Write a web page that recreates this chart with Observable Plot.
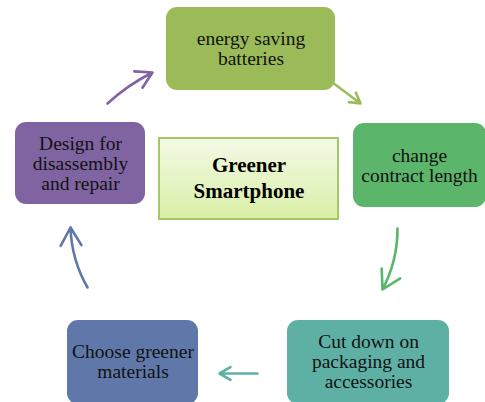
<!DOCTYPE html>
<html>
<head>
<meta charset="utf-8">
<script src="https://cdn.jsdelivr.net/npm/d3@7"></script>
<script src="https://cdn.jsdelivr.net/npm/@observablehq/plot@0.6"></script>
<style>
  html, body { margin: 0; padding: 0; background: #fff; }
  #chart svg { display: block; }
  #chart svg text { font-family: "Liberation Serif", "Times New Roman", "DejaVu Serif", serif !important; }
</style>
</head>
<body>
<div id="chart"></div>
<script>
// Cycle steps (clockwise from top)
const steps = [
  "energy saving\nbatteries",
  "change\ncontract length",
  "Cut down on\npackaging and\naccessories",
  "Choose greener\nmaterials",
  "Design for\ndisassembly\nand repair"
];
const stepColors = ["#9bbb59", "#5bb56a", "#5eb0a5", "#6078a9", "#8064a2"];
const centerLabel = "Greener\nSmartphone";

// Layout of the diagram (box extents in diagram units)
const boxLeft   = [166, 353, 287, 67, 15];
const boxRight  = [335, 486, 449, 198, 145];
const boxTop    = [7, 123, 320, 320, 122];
const boxBottom = [90, 207, 404, 404, 204];
const centerBox = {x1: 159, x2: 338, y1: 138, y2: 219};

// Connector arrows between steps
const arrowFromX = [332, 397, 257, 87, 107];
const arrowFromY = [82, 228, 373, 287, 103];
const arrowToX   = [360, 382, 219, 70, 152];
const arrowToY   = [103, 289, 373, 227, 72];
const arrowBend  = [0, 14, 0, 14, 8];

const boxes = steps.map((label, i) => ({
  label, fill: stepColors[i],
  x1: boxLeft[i], x2: boxRight[i], y1: boxTop[i], y2: boxBottom[i]
}));
const arrows = steps.map((_, i) => ({
  x1: arrowFromX[i], y1: arrowFromY[i], x2: arrowToX[i], y2: arrowToY[i],
  color: stepColors[i], bend: arrowBend[i]
}));

const plot = Plot.plot({
  width: 485,
  height: 402,
  margin: 0,
  x: {domain: [0, 485], range: [0, 485], axis: null},
  y: {domain: [0, 402], range: [0, 402], axis: null},
  marks: [
    Plot.rect(boxes, {x1: "x1", x2: "x2", y1: "y1", y2: "y2", fill: d => d.fill, rx: 11}),
    Plot.rect([centerBox], {x1: "x1", x2: "x2", y1: "y1", y2: "y2", fill: "url(#centerGrad)", stroke: "#a6c767", strokeWidth: 2}),
    ...arrows.map(a => Plot.arrow([a], {
      x1: "x1", y1: "y1", x2: "x2", y2: "y2",
      stroke: a.color, strokeWidth: 2.6, bend: a.bend, headLength: 20, headAngle: 60
    })),
    Plot.text(boxes, {
      x: d => (d.x1 + Math.min(d.x2, 485)) / 2,
      y: d => (d.y1 + Math.min(d.y2, 402)) / 2,
      text: "label", fontFamily: "Liberation Serif", fontSize: 19.5, lineHeight: 1.02,
      fill: "#111", textAnchor: "middle", lineAnchor: "middle"
    }),
    Plot.text([centerBox], {
      x: d => (d.x1 + d.x2) / 2, y: d => (d.y1 + d.y2) / 2 - 2,
      text: () => centerLabel, fontFamily: "Liberation Serif", fontSize: 21, fontWeight: "bold",
      lineHeight: 1.2, fill: "#000", textAnchor: "middle", lineAnchor: "middle"
    })
  ]
});

const svg = d3.select(plot);
const defs = svg.insert("defs", ":first-child");
const g = defs.append("linearGradient").attr("id", "centerGrad").attr("x1", 0).attr("y1", 0).attr("x2", 0).attr("y2", 1);
g.append("stop").attr("offset", "0%").attr("stop-color", "#f3f9e6");
g.append("stop").attr("offset", "100%").attr("stop-color", "#d9f0a6");

document.getElementById("chart").appendChild(plot);
</script>
</body>
</html>
